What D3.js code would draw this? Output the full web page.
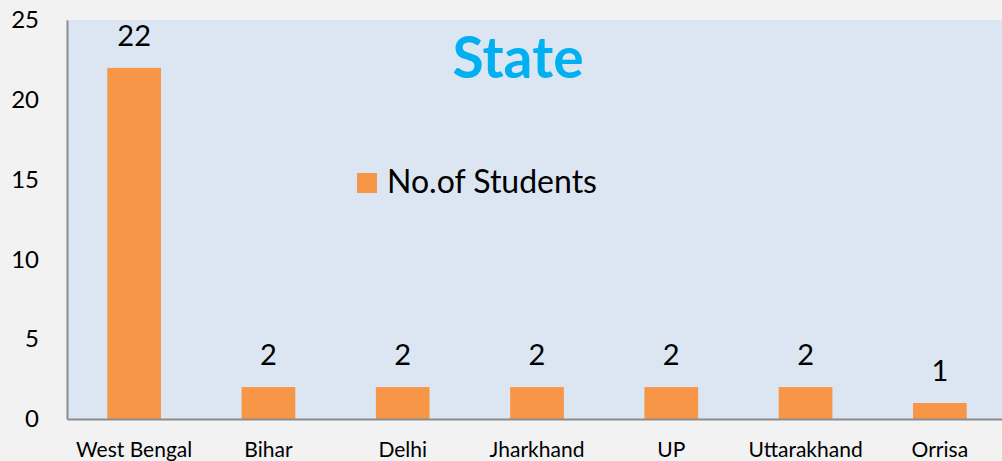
<!DOCTYPE html>
<meta charset="utf-8">
<script src="https://d3js.org/d3.v7.min.js"></script>
<style>
  body { margin: 0; background: #f2f2f2; font-family: Lato, "Open Sans", sans-serif; }
</style>
<body>
<div id="viz"></div>
<script>
// data
const states = ["West Bengal", "Bihar", "Delhi", "Jharkhand", "UP", "Uttarakhand", "Orrisa"];
const students = [22, 2, 2, 2, 2, 2, 1];
const yTicks = [0, 5, 10, 15, 20, 25];

const W = 1002, H = 461;
const margin = {top: 20, right: -5, bottom: 42, left: 67},
    width = W - margin.left - margin.right,
    height = H - margin.top - margin.bottom;

const svg = d3.select("#viz").append("svg")
    .attr("width", W).attr("height", H)
    .style("display", "block")
    .style("background", "#f2f2f2");

const g = svg.append("g").attr("transform", `translate(${margin.left},${margin.top})`);

// plot area
g.append("rect")
  .attr("x", 0).attr("y", 0)
  .attr("width", width).attr("height", height)
  .attr("fill", "#dce6f2");

const x = d3.scaleBand().domain(states).range([0, width]).paddingInner(0.6).paddingOuter(0.3);
const y = d3.scaleLinear().domain([0, 25]).range([height, 0]);

// bars
g.selectAll(".bar").data(states).join("rect")
  .attr("class", "bar")
  .attr("x", d => x(d))
  .attr("width", x.bandwidth())
  .attr("y", (d, i) => y(students[i]))
  .attr("height", (d, i) => height - y(students[i]))
  .attr("fill", "#f79646");

// data labels
g.selectAll(".lbl").data(states).join("text")
  .attr("class", "lbl")
  .attr("x", d => x(d) + x.bandwidth() / 2)
  .attr("y", (d, i) => y(students[i]) - 22)
  .attr("text-anchor", "middle")
  .style("font-size", "29px")
  .style("fill", "#000")
  .text((d, i) => students[i]);

// y axis
const yAxis = g.append("g")
  .call(d3.axisLeft(y).tickValues(yTicks).tickSize(0).tickPadding(28));
yAxis.select(".domain").attr("stroke", "#8c8c8c").attr("stroke-width", 2);
yAxis.selectAll("text").style("font-size", "24px").style("font-family", "Lato, sans-serif").attr("fill", "#000");

// x axis
const xAxis = g.append("g")
  .attr("transform", `translate(0,${height})`)
  .call(d3.axisBottom(x).tickSize(0).tickPadding(23));
xAxis.select(".domain").attr("stroke", "#8c8c8c").attr("stroke-width", 2);
xAxis.selectAll("text").style("font-size", "21px").style("font-family", "Lato, sans-serif").attr("fill", "#000");

// title
svg.append("text")
  .attr("x", 518).attr("y", 78)
  .attr("text-anchor", "middle")
  .style("font-size", "57px")
  .style("font-weight", "bold")
  .style("fill", "#00b0f0")
  .text("State");

// legend
svg.append("rect").attr("x", 357).attr("y", 173).attr("width", 20).attr("height", 20).attr("fill", "#f79646");
svg.append("text").attr("x", 387).attr("y", 193)
  .style("font-size", "32px").style("fill", "#000")
  .text("No.of Students");
</script>
</body>
